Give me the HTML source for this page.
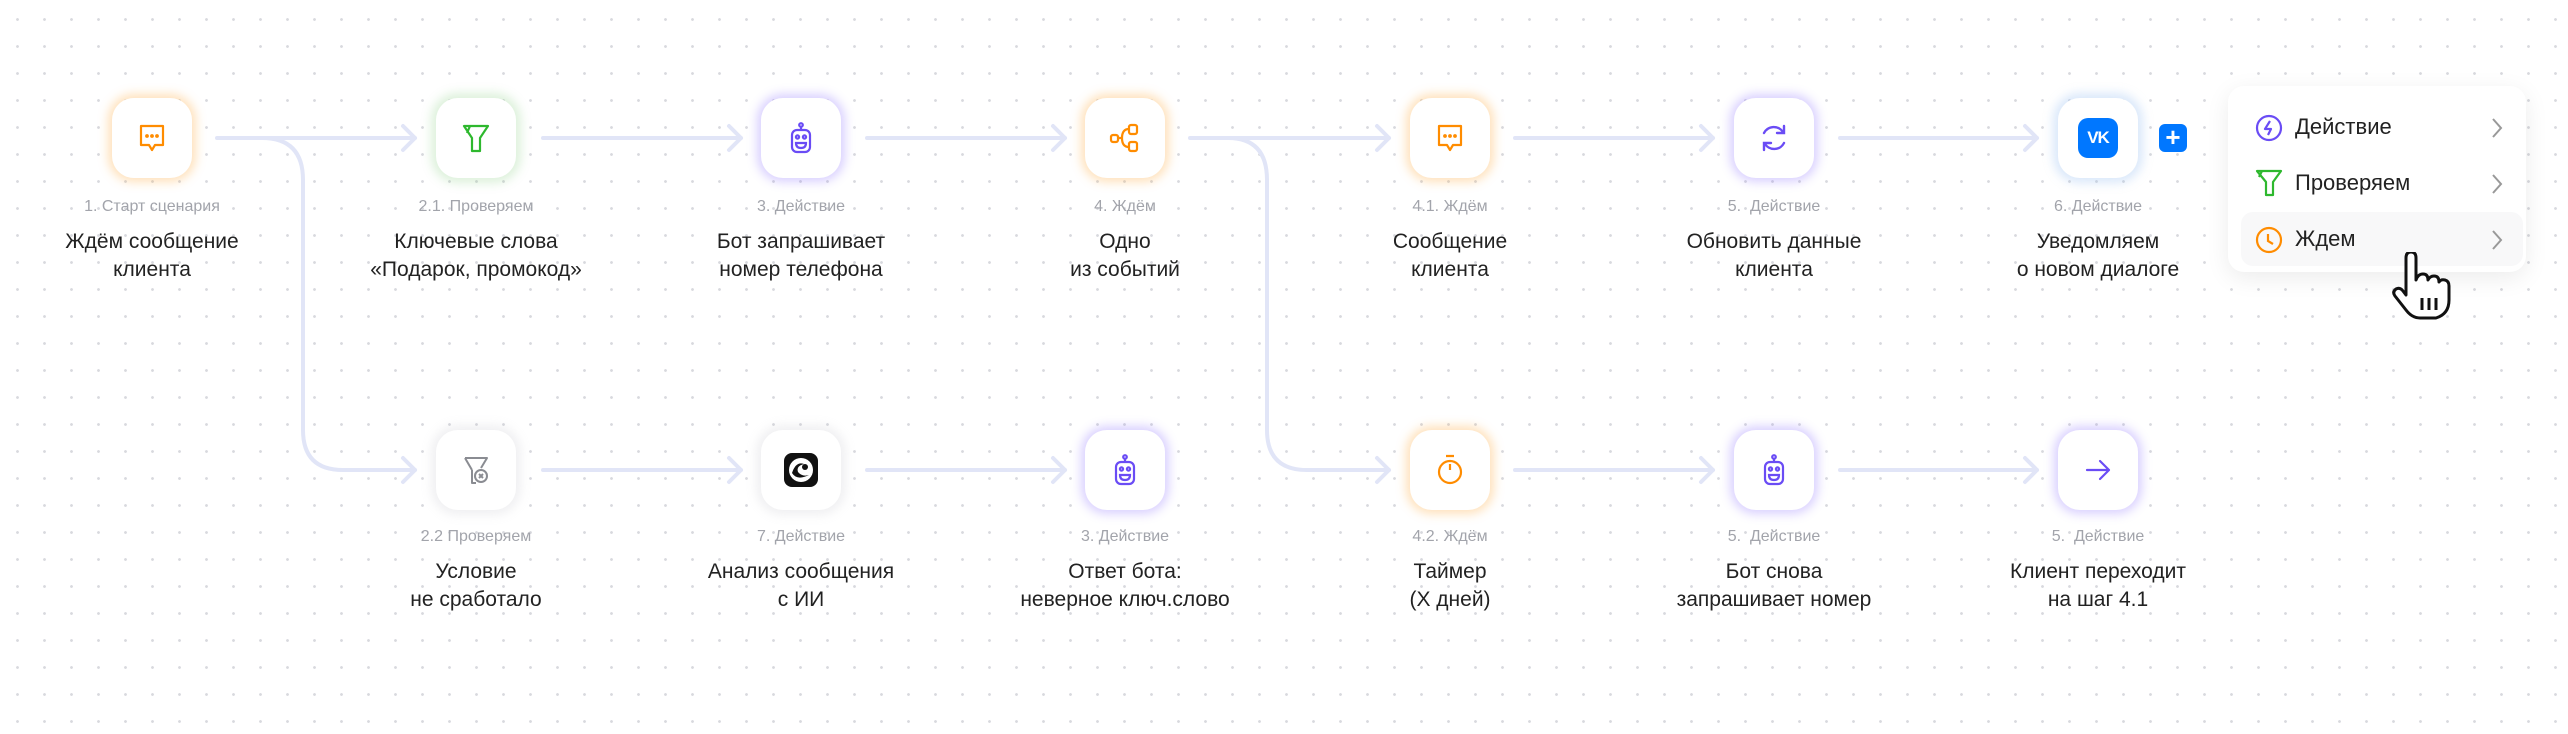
<!DOCTYPE html>
<html><head><meta charset="utf-8"><style>
body{margin:0;width:2568px;height:734px;overflow:hidden;background:#fff;
background-image:radial-gradient(circle,#d8d9de 1.2px,transparent 1.6px);background-size:27px 27px;background-position:4px 6px;
font-family:"Liberation Sans",sans-serif;position:relative}
.n{position:absolute;width:80px;height:80px;border-radius:22px;background:#fff;display:flex;align-items:center;justify-content:center}
.o{box-shadow:0 0 10px 4px rgba(255,170,60,.35)}
.g{box-shadow:0 0 10px 5px rgba(120,200,110,.25)}
.p{box-shadow:0 0 10px 4px rgba(130,100,255,.3)}
.b{box-shadow:0 0 10px 5px rgba(150,190,240,.35)}
.y{box-shadow:0 0 10px 5px rgba(180,180,190,.2)}
.l{position:absolute;width:300px;text-align:center}
.s{font-size:16px;color:#a2a4ab;height:22px}
.m{font-size:21px;color:#222;line-height:28px;margin-top:8px}
.menu{position:absolute;left:2228px;top:86px;width:298px;height:186px;background:#fff;border-radius:16px;box-shadow:0 6px 24px rgba(0,0,0,.08)}
.it{position:absolute;left:13px;width:282px;height:54px;border-radius:12px;font-size:22px;color:#222}
.it span{position:absolute;left:54px;top:14px}
.it svg{position:absolute}
</style></head><body>
<svg width="2568" height="734" style="position:absolute;left:0;top:0" fill="none" stroke="#e1e5f7" stroke-width="4" stroke-linecap="round" stroke-linejoin="round">
<!-- row1 lines -->
<path d="M217 138H415M543 138H741M867 138H1065M1190 138H1389M1515 138H1713M1840 138H2037"/>
<!-- row1 arrows -->
<path d="M403 126L415 138L403 150M729 126L741 138L729 150M1053 126L1065 138L1053 150M1377 126L1389 138L1377 150M1701 126L1713 138L1701 150M2025 126L2037 138L2025 150"/>
<!-- branch 1 -->
<path d="M262 138Q303 138 303 180V430Q303 470 343 470H415"/>
<path d="M1228 138Q1267 138 1267 180V430Q1267 470 1307 470H1389"/>
<!-- row2 lines -->
<path d="M543 470H741M867 470H1065M1515 470H1713M1840 470H2037"/>
<path d="M403 458L415 470L403 482M729 458L741 470L729 482M1053 458L1065 470L1053 482M1377 458L1389 470L1377 482M1701 458L1713 470L1701 482M2025 458L2037 470L2025 482"/>
</svg>

<!-- Row 1 nodes -->
<div class="n o" style="left:112px;top:98px"><svg width="34" height="34" viewBox="0 0 34 34" fill="none" stroke="#ff8c00" stroke-width="2.2"><path d="M6 5H28V24H20L17 29L14 24H6Z" stroke-linejoin="round"/><circle cx="12" cy="15" r=".8" fill="#ff8c00"/><circle cx="17" cy="15" r=".8" fill="#ff8c00"/><circle cx="22" cy="15" r=".8" fill="#ff8c00"/></svg></div>
<div class="n g" style="left:436px;top:98px"><svg width="34" height="34" viewBox="0 0 34 34" fill="none" stroke="#2eb82e" stroke-width="2.2" stroke-linejoin="round"><path d="M5 5H29L21 17V30H13V17Z"/><path d="M11 5L8 12"/></svg></div>
<div class="n p" style="left:761px;top:98px"><svg width="34" height="34" viewBox="0 0 34 34" fill="none" stroke="#6a4cf5" stroke-width="2.2"><circle cx="17" cy="4" r="1.8"/><path d="M17 6V9"/><rect x="8" y="9" width="18" height="22" rx="5"/><circle cx="13.5" cy="16" r="1.6"/><circle cx="20.5" cy="16" r="1.6"/><path d="M12 22H22Q22 27 17 27Q12 27 12 22Z"/></svg></div>
<div class="n o" style="left:1085px;top:98px"><svg width="34" height="34" viewBox="0 0 34 34" fill="none" stroke="#ff8c00" stroke-width="2.2"><rect x="3" y="14" width="7" height="7" rx="2"/><rect x="21" y="4" width="8" height="9" rx="2"/><rect x="21" y="21" width="8" height="9" rx="2"/><path d="M10 17H14M14 17Q14 8 21 8M14 17Q14 26 21 26"/></svg></div>
<div class="n o" style="left:1410px;top:98px"><svg width="34" height="34" viewBox="0 0 34 34" fill="none" stroke="#ff8c00" stroke-width="2.2"><path d="M6 5H28V24H20L17 29L14 24H6Z" stroke-linejoin="round"/><circle cx="12" cy="15" r=".8" fill="#ff8c00"/><circle cx="17" cy="15" r=".8" fill="#ff8c00"/><circle cx="22" cy="15" r=".8" fill="#ff8c00"/></svg></div>
<div class="n p" style="left:1734px;top:98px"><svg width="36" height="36" viewBox="0 0 36 36" fill="none" stroke="#6a4cf5" stroke-width="2.4" stroke-linecap="round"><path d="M27 12A11 11 0 0 0 8 13M9 24A11 11 0 0 0 28 23"/><path d="M28 6V13H21M8 30V23H15"/></svg></div>
<div class="n b" style="left:2058px;top:98px"><div style="width:40px;height:40px;border-radius:10px;background:#0077ff;color:#fff;font-weight:bold;font-size:17px;display:flex;align-items:center;justify-content:center;letter-spacing:-1px">VK</div></div>
<div style="position:absolute;left:2159px;top:124px;width:28px;height:28px;border-radius:6px;background:#0077ff;color:#fff;font-size:26px;line-height:27px;text-align:center;font-weight:bold">+</div>

<!-- Row 2 nodes -->
<div class="n y" style="left:436px;top:430px"><svg width="34" height="34" viewBox="0 0 34 34" fill="none" stroke="#8a8c92" stroke-width="2" stroke-linejoin="round"><path d="M6 5H28L22 15M13 17V30H17M13 17L6 5"/><circle cx="22" cy="23" r="6"/><path d="M20 21L24 25M24 21L20 25"/></svg></div>
<div class="n y" style="left:761px;top:430px"><svg width="38" height="38" viewBox="0 0 38 38"><rect x="2" y="2" width="34" height="34" rx="8" fill="#111"/><ellipse cx="19" cy="19" rx="12" ry="12" fill="#fff"/><path d="M10 22Q15 30 27 24Q20 26 16 21Q14 15 22 13Q14 10 10 22Z" fill="#111"/><circle cx="23" cy="16" r="3" fill="#111"/></svg></div>
<div class="n p" style="left:1085px;top:430px"><svg width="34" height="34" viewBox="0 0 34 34" fill="none" stroke="#6a4cf5" stroke-width="2.2"><circle cx="17" cy="4" r="1.8"/><path d="M17 6V9"/><rect x="8" y="9" width="18" height="22" rx="5"/><circle cx="13.5" cy="16" r="1.6"/><circle cx="20.5" cy="16" r="1.6"/><path d="M12 22H22Q22 27 17 27Q12 27 12 22Z"/></svg></div>
<div class="n o" style="left:1410px;top:430px"><svg width="34" height="34" viewBox="0 0 34 34" fill="none" stroke="#ff8c00" stroke-width="2.2"><path d="M13 3H21M17 11V17"/><circle cx="17" cy="19" r="11"/></svg></div>
<div class="n p" style="left:1734px;top:430px"><svg width="34" height="34" viewBox="0 0 34 34" fill="none" stroke="#6a4cf5" stroke-width="2.2"><circle cx="17" cy="4" r="1.8"/><path d="M17 6V9"/><rect x="8" y="9" width="18" height="22" rx="5"/><circle cx="13.5" cy="16" r="1.6"/><circle cx="20.5" cy="16" r="1.6"/><path d="M12 22H22Q22 27 17 27Q12 27 12 22Z"/></svg></div>
<div class="n p" style="left:2058px;top:430px"><svg width="34" height="34" viewBox="0 0 34 34" fill="none" stroke="#6a4cf5" stroke-width="2.2" stroke-linecap="round" stroke-linejoin="round"><path d="M6 17H28M19 8L28 17L19 26"/></svg></div>

<!-- Labels row1 -->
<div class="l" style="left:2px;top:198px"><div class="s">1. Старт сценария</div><div class="m">Ждём сообщение<br>клиента</div></div>
<div class="l" style="left:326px;top:198px"><div class="s">2.1. Проверяем</div><div class="m">Ключевые слова<br>«Подарок, промокод»</div></div>
<div class="l" style="left:651px;top:198px"><div class="s">3. Действие</div><div class="m">Бот запрашивает<br>номер телефона</div></div>
<div class="l" style="left:975px;top:198px"><div class="s">4. Ждём</div><div class="m">Одно<br>из событий</div></div>
<div class="l" style="left:1300px;top:198px"><div class="s">4.1. Ждём</div><div class="m">Сообщение<br>клиента</div></div>
<div class="l" style="left:1624px;top:198px"><div class="s">5.&nbsp; Действие</div><div class="m">Обновить данные<br>клиента</div></div>
<div class="l" style="left:1948px;top:198px"><div class="s">6. Действие</div><div class="m">Уведомляем<br>о новом диалоге</div></div>
<!-- Labels row2 -->
<div class="l" style="left:326px;top:528px"><div class="s">2.2 Проверяем</div><div class="m">Условие<br>не сработало</div></div>
<div class="l" style="left:651px;top:528px"><div class="s">7. Действие</div><div class="m">Анализ сообщения<br>с ИИ</div></div>
<div class="l" style="left:975px;top:528px"><div class="s">3. Действие</div><div class="m">Ответ бота:<br>неверное ключ.слово</div></div>
<div class="l" style="left:1300px;top:528px"><div class="s">4.2. Ждём</div><div class="m">Таймер<br>(X дней)</div></div>
<div class="l" style="left:1624px;top:528px"><div class="s">5.&nbsp; Действие</div><div class="m">Бот снова<br>запрашивает номер</div></div>
<div class="l" style="left:1948px;top:528px"><div class="s">5.&nbsp; Действие</div><div class="m">Клиент переходит<br>на шаг 4.1</div></div>

<!-- Menu -->
<div class="menu">
<div class="it" style="top:14px"><svg style="left:14px;top:14px" width="28" height="28" viewBox="0 0 28 28" fill="none" stroke="#6a4cf5" stroke-width="2.2"><circle cx="14" cy="14" r="12"/><path d="M15 7L10 15H16L13 21" stroke-linejoin="round"/></svg><span>Действие</span><svg style="left:250px;top:17px" width="12" height="22" viewBox="0 0 12 22" fill="none" stroke="#999" stroke-width="2"><path d="M2 2L10 11L2 20"/></svg></div>
<div class="it" style="top:70px"><svg style="left:14px;top:12px" width="28" height="30" viewBox="0 0 28 30" fill="none" stroke="#2eb82e" stroke-width="2.2" stroke-linejoin="round"><path d="M2 3H26L18 14V27H11V14Z"/><path d="M7 3L4 9"/></svg><span>Проверяем</span><svg style="left:250px;top:17px" width="12" height="22" viewBox="0 0 12 22" fill="none" stroke="#999" stroke-width="2"><path d="M2 2L10 11L2 20"/></svg></div>
<div class="it" style="top:126px;background:#f8f8f9"><svg style="left:14px;top:14px" width="28" height="28" viewBox="0 0 28 28" fill="none" stroke="#ff8c00" stroke-width="2.2"><circle cx="14" cy="14" r="12"/><path d="M13 8V15L18 18"/></svg><span>Ждем</span><svg style="left:250px;top:17px" width="12" height="22" viewBox="0 0 12 22" fill="none" stroke="#999" stroke-width="2"><path d="M2 2L10 11L2 20"/></svg></div>
</div>
<!-- Hand cursor -->
<svg style="position:absolute;left:2392px;top:252px" width="64" height="70" viewBox="0 0 64 70" fill="#fff" stroke="#111" stroke-width="3" stroke-linejoin="round">
<path d="M14 6Q14 0 19 0Q24 0 24 6V28Q26 22 31 22Q36 22 36 28Q38 24 42 24Q47 24 47 30Q49 27 53 28Q57 29 57 34V48Q57 62 44 66H28Q20 66 14 58L3 44Q0 40 4 37Q8 35 11 39L14 43Z"/>
<path d="M30 46V58M37 46V58M44 46V58" stroke-width="3"/>
</svg>
</body></html>
